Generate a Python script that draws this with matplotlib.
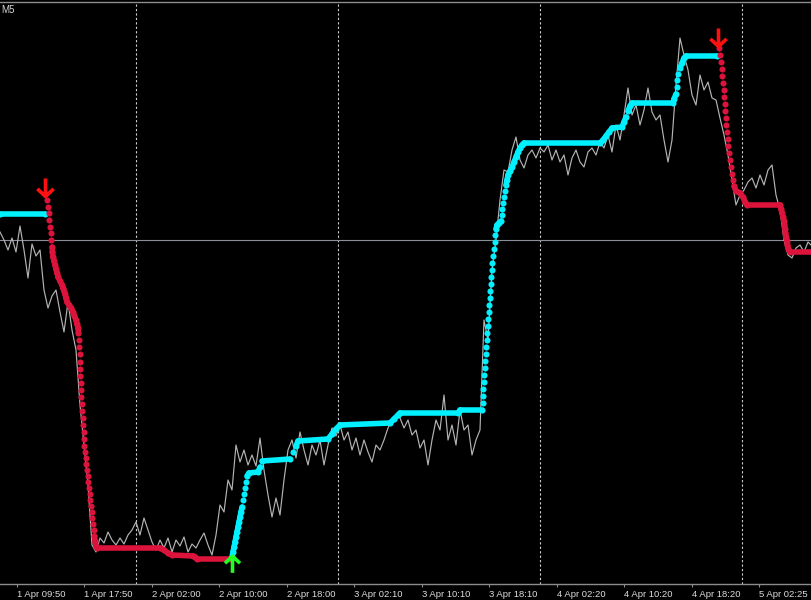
import numpy as np
import matplotlib
matplotlib.use('Agg')
import matplotlib.pyplot as plt
from matplotlib.collections import LineCollection
from matplotlib.path import Path

# time axis labels (chart columns)
tick_labels = ['1 Apr 09:50', '1 Apr 17:50', '2 Apr 02:00', '2 Apr 10:00',
               '2 Apr 18:00', '3 Apr 02:10', '3 Apr 10:10', '3 Apr 18:10',
               '4 Apr 02:20', '4 Apr 10:20', '4 Apr 18:20', '5 Apr 02:25']
tick_pos = [17 + 67.5 * k for k in range(len(tick_labels))]
grid_pos = [136.5, 338.5, 540, 742]
hline_level = 360

# close price, one value every 4 columns
price = [368, 360, 350, 362, 348, 374, 350, 322, 356, 344, 350, 310, 292, 304, 310, 288,
         268, 298, 270, 250, 195, 155, 115, 55, 48, 62, 57, 68, 60, 55, 62, 56,
         65, 70, 78, 65, 82, 70, 58, 50, 60, 52, 62, 48, 60, 54, 63, 48,
         56, 52, 60, 67, 55, 45, 65, 95, 88, 120, 110, 155, 138, 150, 135, 145,
         134, 162, 130, 105, 83, 102, 85, 120, 150, 160, 142, 168, 150, 135, 155, 145,
         160, 135, 155, 172, 164, 175, 160, 168, 150, 162, 145, 160, 148, 138, 155, 150,
         160, 172, 180, 185, 182, 172, 180, 165, 170, 152, 160, 135, 160, 180, 170, 205,
         160, 175, 155, 190, 170, 175, 145, 160, 170, 280, 260, 330, 360, 400, 430, 428,
         450, 463, 440, 432, 445, 450, 442, 452, 448, 455, 440, 450, 438, 445, 425, 442,
         450, 438, 433, 448, 452, 445, 458, 452, 465, 448, 475, 460, 485, 512, 485, 495,
         475, 490, 512, 488, 480, 485, 460, 438, 460, 515, 562, 545, 530, 505, 495, 525,
         510, 518, 502, 500, 482, 465, 445, 420, 395, 405, 410, 418, 422, 412, 425, 415,
         430, 435, 405, 390, 360, 345, 342, 352, 355, 348, 358, 354]
price_step = 4

# trailing stop runs
up1_x = [0, 45]
up1_lvl = [386, 386]

down1_x = [47, 48, 49, 49.5, 50, 51, 51.5, 52, 52.5, 53, 54, 55, 56, 57, 58, 60, 62, 63, 64, 65,
           66, 67, 69, 71, 73, 74.5, 76, 77, 78, 78.5,
           79, 79.5, 80, 80, 80.5, 80.5, 81, 81, 81.5, 82, 82.5, 83, 83.5, 84, 84, 84.5, 85, 86,
           86.5, 87, 88, 88.5, 89, 90, 90.5, 91, 92, 92.5, 93, 94, 94.5, 95, 96, 97,
           160, 164, 168, 172, 193, 195, 197, 230]
down1_lvl = [400, 393, 387, 380, 373, 367, 360, 353, 348, 343, 339, 335, 331, 327, 323, 319, 315, 312, 309, 306,
             302, 298, 295, 292, 288, 284, 280, 276, 272, 267,
             260, 253, 246, 238, 231, 224, 217, 210, 203, 196, 189, 182, 175, 168, 161, 154, 148, 142,
             136, 130, 124, 118, 112, 106, 100, 94, 88, 82, 76, 70, 64, 59, 54, 52,
             52, 50, 47, 45, 44, 43, 41, 41]

up2_x = [232, 233, 234, 235, 236, 237, 238, 239, 240, 241, 242, 243, 244, 245, 246, 247, 249, 258,
         260, 262, 290, 293, 296, 298, 328, 332, 336, 340, 390, 394, 398, 400, 458, 460, 482,
         483, 483, 483.5, 484, 484.5, 485, 485.5, 486, 486.5, 487, 487.5, 488, 488.5, 489, 489.5,
         490, 490.5, 491, 491.5, 492, 492.5, 493, 494, 495, 495.5, 496, 497, 499, 501,
         502, 502.5, 503, 504, 505, 506, 507, 508, 510, 512, 514, 516, 518, 520, 522, 524,
         600, 603, 606, 609, 612, 622, 624, 626, 628, 630, 632, 673, 674, 676, 677, 677.5,
         678, 680, 682, 684, 686, 717]
up2_lvl = [43, 48, 53, 58, 63, 68, 73, 78, 83, 88, 93, 100, 106, 112, 118, 124, 127, 128,
           133, 139, 141, 148, 154, 159, 161, 166, 171, 175, 177, 181, 185, 187, 187, 190, 190,
           197, 204, 211, 218, 225, 232, 239, 246, 253, 260, 267, 274, 281, 288, 295,
           302, 309, 316, 323, 330, 337, 344, 351, 358, 365, 371, 375, 377, 379,
           385, 391, 397, 403, 409, 415, 420, 425, 429, 433, 438, 443, 448, 452, 455, 457,
           457, 460, 464, 468, 472, 473, 478, 483, 489, 494, 497, 497, 501, 506, 513, 520,
           526, 532, 537, 542, 544, 544]

down2_x = [719, 720, 721, 722, 722.5, 723, 724, 724.5, 725, 725.5, 726, 726.5, 727, 728, 728.5,
           729, 730, 731, 732, 733, 734, 736, 740, 743, 745, 747, 780, 781, 782, 783, 784,
           784.5, 785, 785.5, 786, 787, 787.5, 788.5, 790, 812]
down2_lvl = [552, 545, 538, 531, 524, 517, 510, 503, 496, 489, 482, 475, 468, 461, 454,
             447, 440, 433, 426, 420, 414, 409, 407, 403, 398, 395, 395, 391, 387, 383, 379,
             375, 371, 367, 363, 359, 355, 351, 348, 348]

# signal arrows
sell_x = [45, 718]
sell_lvl = [413, 563]
buy_x = [232]
buy_lvl = [36]

CYAN = '#00f0ff'
RED = '#dc143c'

fig = plt.figure(figsize=(8.12, 6.0), dpi=100, facecolor='black')
ax = fig.add_axes([0, 16 / 600, 1, 582 / 600])
ax.set_facecolor('black')
ax.set_xlim(0, 812)
ax.set_ylim(16, 598)

for g in grid_pos:
    ax.axvline(g, color='#d0d0d0', lw=0.8, ls=(0, (2, 2)), zorder=1)
ax.axhline(hline_level, color='#8a8f99', lw=0.8, zorder=1)

px = np.arange(len(price)) * price_step
ax.plot(px, price, color='#b4b4b4', lw=0.85, zorder=2)


def draw_stop(xs, lvls, color):
    xs = np.asarray(xs, float)
    lvls = np.asarray(lvls, float)
    pts = np.column_stack([xs, lvls])
    segs = [pts[i:i + 2] for i in range(len(pts) - 1) if abs(lvls[i + 1] - lvls[i]) <= 5]
    ax.add_collection(LineCollection(segs, colors=color, linewidths=4.0,
                                     capstyle='round', zorder=4))
    ax.plot(xs, lvls, 'o', color=color, ms=4.4, mew=0, zorder=4)


draw_stop(up1_x, up1_lvl, CYAN)
draw_stop(down1_x, down1_lvl, RED)
draw_stop(up2_x, up2_lvl, CYAN)
draw_stop(down2_x, down2_lvl, RED)

down_arrow = Path([(0, 1), (0, -1), (-0.9, -0.15), (0, -1), (0.9, -0.15)],
                  [Path.MOVETO, Path.LINETO, Path.MOVETO, Path.LINETO, Path.LINETO])
up_arrow = Path([(0, -1), (0, 1), (-0.9, 0.15), (0, 1), (0.9, 0.15)],
                [Path.MOVETO, Path.LINETO, Path.MOVETO, Path.LINETO, Path.LINETO])
ax.plot(sell_x, sell_lvl, ls='none', marker=down_arrow, ms=13, mfc='none',
        mec='#ff1010', mew=2.6, zorder=5)
ax.plot(buy_x, buy_lvl, ls='none', marker=up_arrow, ms=12, mfc='none',
        mec='#22ff22', mew=2.6, zorder=5)

for s in ['left', 'right']:
    ax.spines[s].set_visible(False)
for s in ['top', 'bottom']:
    ax.spines[s].set_color('#8c8c8c')
    ax.spines[s].set_linewidth(1.0)

ax.set_yticks([])
ax.set_xticks(tick_pos)
ax.set_xticklabels(tick_labels, family='Liberation Sans', fontsize=6.8, color='#dcdcdc')
for lbl in ax.get_xticklabels():
    lbl.set_horizontalalignment('left')
ax.tick_params(axis='x', direction='out', length=2.5, width=0.8, color='#8c8c8c', pad=1.5)

fig.text(1 / 812, 1 - 5 / 600, 'M5', ha='left', va='top', color='#d8d8d8',
         fontsize=7, family='Liberation Sans')

fig.savefig('out.png', dpi=100, facecolor='black')
